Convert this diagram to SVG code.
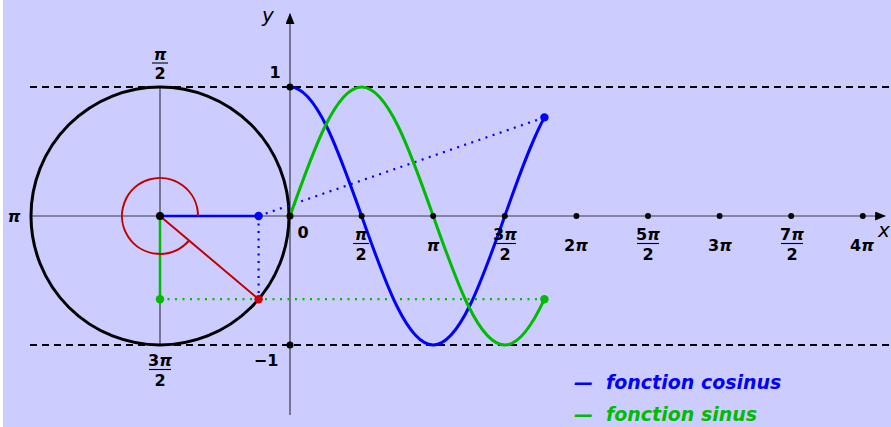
<svg xmlns="http://www.w3.org/2000/svg" width="891" height="427" viewBox="0 0 891 427">
<style>
.ax{stroke:#3a3a4a;stroke-width:1.2;fill:none}
.dash{stroke:#000;stroke-width:1.8;stroke-dasharray:7 5;fill:none}
.lbl{font-family:"DejaVu Sans",sans-serif;font-weight:bold;font-size:16px;fill:#000;text-anchor:middle}
.pi{font-style:italic}
.var{font-family:"DejaVu Sans",sans-serif;font-style:italic;font-size:20px;fill:#000;text-anchor:middle}
.bar{stroke:#000;stroke-width:1.1}
.tick{fill:#000}
.leg{font-family:"DejaVu Sans",sans-serif;font-weight:bold;font-style:italic;font-size:19px}
</style>
<defs>
<marker id="arr" viewBox="0 0 10 10" refX="9" refY="5" markerWidth="11" markerHeight="9" markerUnits="userSpaceOnUse" orient="auto" preserveAspectRatio="none">
<path d="M0,0 L10,5 L0,10 z" fill="#000"/>
</marker>
</defs>
<rect x="0" y="0" width="891" height="427" fill="#ffffff"/>
<rect x="3" y="0" width="888" height="427" fill="#ccccff"/>

<g id="guides">
<line class="dash" x1="30" y1="87" x2="889" y2="87"/>
<line class="dash" x1="30" y1="345" x2="889" y2="345"/>
</g>

<g id="axes">
<line class="ax" x1="30" y1="216" x2="885" y2="216" marker-end="url(#arr)"/>
<line class="ax" x1="290" y1="415" x2="290" y2="14" marker-end="url(#arr)"/>
<line class="ax" x1="160" y1="87" x2="160" y2="345"/>
<text class="var" x="268" y="22">y</text>
<text class="var" x="884" y="237">x</text>
</g>

<g id="circle">
<circle cx="160" cy="216" r="129" fill="none" stroke="#000" stroke-width="3"/>
</g>

<g id="connectors">
<line x1="258.6" y1="216" x2="544.4" y2="117.4" stroke="#0000ff" stroke-width="2.2" stroke-dasharray="2 5.5"/>
<line x1="258.6" y1="216" x2="258.6" y2="299.2" stroke="#0000ff" stroke-width="2.2" stroke-dasharray="2 5.5"/>
<line x1="160" y1="299.2" x2="544.4" y2="299.2" stroke="#00bb00" stroke-width="2.2" stroke-dasharray="2 5.5"/>
<line x1="160" y1="216" x2="258.6" y2="216" stroke="#0000ff" stroke-width="2.5"/>
<line x1="160" y1="216" x2="160" y2="299.2" stroke="#00bb00" stroke-width="2.5"/>
<line x1="160" y1="216" x2="258.6" y2="299.2" stroke="#c00000" stroke-width="2"/>
<path d="M198,216 A38,38 0 1 0 189.0,240.5" fill="none" stroke="#c00000" stroke-width="2"/>
</g>

<g id="curve-cos">
<path d="M290,87 C315.91,87 338.25,149.91 361.6,216 C384.95,282.09 407.29,345 433.2,345 C459.11,345 481.45,282.09 504.8,216 C518.0,178.6 531.2,141.6 544.4,117.4" fill="none" stroke="#0000ff" stroke-width="3"/>
<circle cx="544.4" cy="117.4" r="4.2" fill="#0000ff"/>
</g>

<g id="curve-sin">
<path d="M290,216 C313.35,149.91 335.69,87 361.6,87 C387.51,87 409.85,149.91 433.2,216 C456.55,282.09 478.89,345 504.8,345 C518.0,345 531.2,327.7 544.4,299.2" fill="none" stroke="#00bb00" stroke-width="3"/>
<circle cx="544.4" cy="299.2" r="4.2" fill="#00bb00"/>
</g>

<g id="points">
<circle cx="160" cy="216" r="4" fill="#000"/>
<circle cx="258.6" cy="216" r="4.2" fill="#0000ff"/>
<circle cx="160" cy="299.2" r="4.2" fill="#00bb00"/>
<circle cx="258.6" cy="299.2" r="4.2" fill="#cc0000"/>
<circle cx="290" cy="216" r="3.5" fill="#000"/>
<circle cx="290" cy="87" r="3.5" fill="#000"/>
<circle cx="290" cy="345" r="3.5" fill="#000"/>
<circle class="tick" cx="361.6" cy="216" r="3"/>
<circle class="tick" cx="433.2" cy="216" r="3"/>
<circle class="tick" cx="504.8" cy="216" r="3"/>
<circle class="tick" cx="576.4" cy="216" r="3"/>
<circle class="tick" cx="648" cy="216" r="3"/>
<circle class="tick" cx="719.6" cy="216" r="3"/>
<circle class="tick" cx="791.2" cy="216" r="3"/>
<circle class="tick" cx="862.8" cy="216" r="3"/>
</g>

<g id="labels">
<text class="lbl" x="275" y="78">1</text>
<text class="lbl" x="266" y="366">−1</text>
<text class="lbl" x="303" y="238">0</text>
<text class="lbl" x="14" y="222"><tspan class="pi">π</tspan></text>
<text class="lbl" x="160" y="60"><tspan class="pi">π</tspan></text>
<line class="bar" x1="152" y1="63" x2="168" y2="63"/>
<text class="lbl" x="160" y="79">2</text>
<text class="lbl" x="160" y="366">3<tspan class="pi">π</tspan></text>
<line class="bar" x1="149" y1="369.5" x2="171" y2="369.5"/>
<text class="lbl" x="160" y="386">2</text>
<text class="lbl" x="361" y="240"><tspan class="pi">π</tspan></text>
<line class="bar" x1="353" y1="243.5" x2="369" y2="243.5"/>
<text class="lbl" x="361" y="260">2</text>
<text class="lbl" x="433" y="251"><tspan class="pi">π</tspan></text>
<text class="lbl" x="505" y="240">3<tspan class="pi">π</tspan></text>
<line class="bar" x1="494" y1="243.5" x2="516" y2="243.5"/>
<text class="lbl" x="505" y="260">2</text>
<text class="lbl" x="576" y="251">2<tspan class="pi">π</tspan></text>
<text class="lbl" x="648" y="240">5<tspan class="pi">π</tspan></text>
<line class="bar" x1="637" y1="243.5" x2="659" y2="243.5"/>
<text class="lbl" x="648" y="260">2</text>
<text class="lbl" x="720" y="251">3<tspan class="pi">π</tspan></text>
<text class="lbl" x="792" y="240">7<tspan class="pi">π</tspan></text>
<line class="bar" x1="781" y1="243.5" x2="803" y2="243.5"/>
<text class="lbl" x="792" y="260">2</text>
<text class="lbl" x="862" y="251">4<tspan class="pi">π</tspan></text>
</g>

<g id="legend">
<text class="leg" x="574" y="389" fill="#0000ff">—<tspan x="606">fonction cosinus</tspan></text>
<text class="leg" x="574" y="421" fill="#00bb00">—<tspan x="606">fonction sinus</tspan></text>
</g>
</svg>
